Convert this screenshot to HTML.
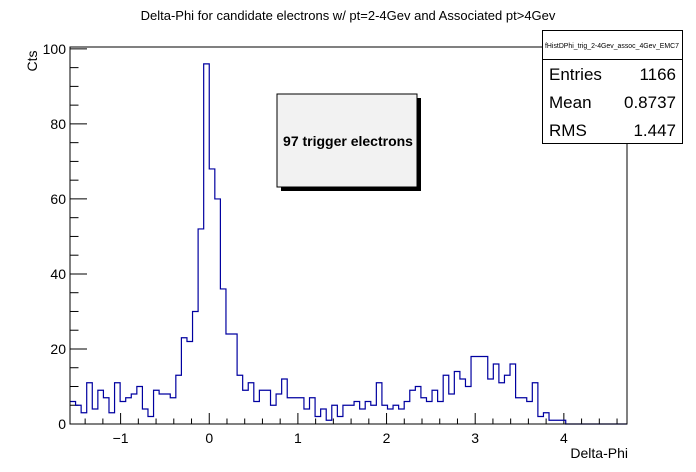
<!DOCTYPE html>
<html><head><meta charset="utf-8"><style>
body{margin:0;background:#fff;}
svg{display:block;font-family:"Liberation Sans",sans-serif;}
</style></head><body>
<svg width="696" height="472" viewBox="0 0 696 472">
<rect width="696" height="472" fill="#fff"/>
<text x="348" y="20" font-size="13" text-anchor="middle">Delta-Phi for candidate electrons w/ pt=2-4Gev and Associated pt&gt;4Gev</text>
<g id="axes"></g>
<path id="hist" fill="none" stroke="#0000a0" stroke-width="1.2"/>
<rect x="70" y="47" width="557" height="377" fill="none" stroke="#000" stroke-width="1"/>
<text x="628" y="458" font-size="14" text-anchor="end">Delta-Phi</text>
<text transform="translate(37,61) rotate(-90)" font-size="14" text-anchor="middle">Cts</text>
<g>
<rect x="281" y="98" width="140" height="93" fill="#000"/>
<rect x="277" y="94" width="140" height="93" fill="#f2f2f2" stroke="#000" stroke-width="1"/>
<text x="348" y="146" font-size="14" font-weight="bold" text-anchor="middle">97 trigger electrons</text>
</g>
<g>
<rect x="542.5" y="30.5" width="140" height="113" fill="#fff" stroke="#000"/>
<line x1="542.5" y1="59.5" x2="682.5" y2="59.5" stroke="#000"/>
<text x="612" y="48" font-size="7" text-anchor="middle" textLength="134" lengthAdjust="spacingAndGlyphs">fHistDPhi_trig_2-4Gev_assoc_4Gev_EMC7</text>
<text x="549" y="80" font-size="17">Entries</text>
<text x="676" y="80" font-size="17" text-anchor="end">1166</text>
<text x="549" y="108" font-size="17">Mean</text>
<text x="676" y="108" font-size="17" text-anchor="end">0.8737</text>
<text x="549" y="136" font-size="17">RMS</text>
<text x="676" y="136" font-size="17" text-anchor="end">1.447</text>
</g>
</svg>
<script>
const binCounts=[6,5,3,11,4,9,7,3,11,6,7,8,10,4,2,9,8,8,7,13,23,22,30,52,96,68,60,36,24,24,13,9,11,6,9,9,5,8,12,7,7,7,4,7,2,4,1,5,2,5,5,6,4,6,5,11,5,4,5,4,6,9,10,7,6,9,6,13,8,14,12,10,18,18,18,12,16,11,13,16,7,7,6,11,2,3,1,1,1,0,0,0,0,0,0,0,0,0,0,0];
const xTickLabels=[-1,0,1,2,3,4];
const yTickLabels=[0,20,40,60,80,100];
const xMin=-Math.PI/2, xMax=3*Math.PI/2, yMax=100.5;
const X0=70,X1=627,Y0=424,Y1=47;
const sx=v=>X0+(v-xMin)/(xMax-xMin)*(X1-X0);
const sy=v=>Y0-v/yMax*(Y0-Y1);
const NS="http://www.w3.org/2000/svg";
const nb=binCounts.length, bw=(xMax-xMin)/nb;
let d="M"+sx(xMin)+","+sy(binCounts[0]);
binCounts.forEach((c,i)=>{
  d+=" L"+sx(xMin+i*bw)+","+sy(c)+" L"+sx(xMin+(i+1)*bw)+","+sy(c);
});
document.getElementById('hist').setAttribute('d',d);
const ax=document.getElementById('axes');
function ln(x1,y1,x2,y2,name){const l=document.createElementNS(NS,'line');
l.setAttribute('x1',x1);l.setAttribute('y1',y1);l.setAttribute('x2',x2);l.setAttribute('y2',y2);
l.setAttribute('stroke','#000');


ax.appendChild(l);}
function tx(x,y,s,anchor,name){const t=document.createElementNS(NS,'text');
t.setAttribute('x',x);t.setAttribute('y',y);t.setAttribute('font-size','14');t.setAttribute('text-anchor',anchor);t.textContent=s;


ax.appendChild(t);}
for(let v=-1.4;v<=4.61;v+=0.2){const r=Math.round(v*10)/10;const major=Math.abs(r-Math.round(r))<1e-6;
 ln(sx(r),Y0,sx(r),Y0-(major?11:5.5),major?'x-major-tick':'x-minor-tick');}
xTickLabels.forEach(v=>tx(sx(v),443,v<0?'\u2212'+(-v):String(v),'middle','x-tick-label'));
for(let v=0;v<=100;v+=5){const major=v%20===0;ln(X0,sy(v),X0+(major?17:8.5),sy(v),major?'y-major-tick':'y-minor-tick');}
yTickLabels.forEach(v=>tx(X0-4,sy(v)+5,String(v),'end','y-tick-label'));
</script>
</body></html>
